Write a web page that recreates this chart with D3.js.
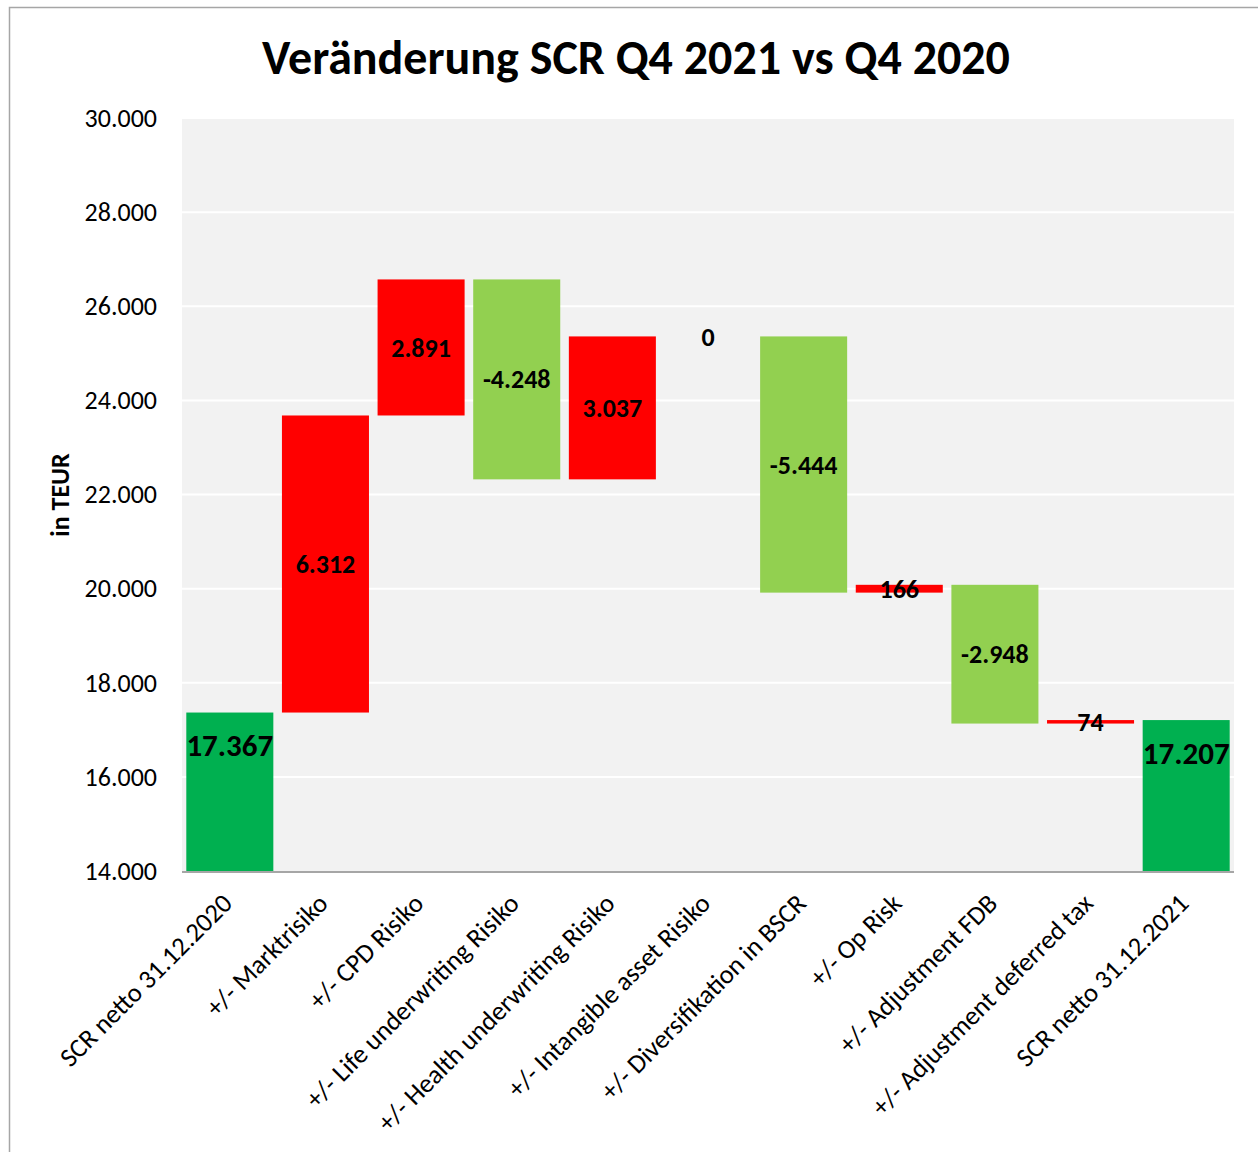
<!DOCTYPE html>
<html>
<head>
<meta charset="utf-8">
<script src="https://cdn.jsdelivr.net/npm/d3@7"></script>
<style>
  body { margin: 0; background: #fff; }
  svg { display: block; font-family: Carlito, Calibri, Lato, sans-serif; }
</style>
</head>
<body>
<div id="chart"></div>
<script>
// categories along the x axis
var categories = [
    "SCR netto 31.12.2020",
    "+/- Marktrisiko",
    "+/- CPD Risiko",
    "+/- Life underwriting Risiko",
    "+/- Health underwriting Risiko",
    "+/- Intangible asset Risiko",
    "+/- Diversifikation in BSCR",
    "+/- Op Risk",
    "+/- Adjustment FDB",
    "+/- Adjustment deferred tax",
    "SCR netto 31.12.2021"
];
// value per step (totals are absolute, the rest are changes)
var values = [17367, 6312, 2891, -4248, 3037, 0, -5444, 166, -2948, 74, 17207];
var kinds = ["total", "delta", "delta", "delta", "delta", "delta", "delta", "delta", "delta", "delta", "total"];
var yTicks = [14000, 16000, 18000, 20000, 22000, 24000, 26000, 28000, 30000];
var yMin = 14000, yMax = 30000;

var width = 1258, height = 1152;
var plot = {left: 182, right: 1234, top: 118, bottom: 871};

var colors = {up: "#FF0000", down: "#92D050", total: "#00B050"};

var fmt = function(v) {
    // german thousands separator
    var s = d3.format(",")(Math.abs(v)).replace(/,/g, ".");
    return (v < 0 ? "-" : "") + s;
};

// build waterfall steps
var running = 0;
var steps = values.map(function(v, i) {
    var d = {name: categories[i], value: v, kind: kinds[i]};
    if (kinds[i] == "total") {
        d.y0 = yMin; d.y1 = v; running = v;
    } else {
        d.y0 = running; d.y1 = running + v; running = d.y1;
    }
    return d;
});

var svg = d3.select("#chart").append("svg")
    .attr("width", width)
    .attr("height", height);

// outer frame
svg.append("path")
    .attr("d", "M9.5," + height + "V7.5H" + width)
    .attr("fill", "none")
    .attr("stroke", "#a6a6a6")
    .attr("stroke-width", 1.5);

var x = d3.scaleBand()
    .domain(categories)
    .range([plot.left, plot.right])
    .paddingInner(0.09)
    .paddingOuter(0.045);

var y = d3.scaleLinear()
    .domain([yMin, yMax])
    .range([plot.bottom, plot.top]);

// plot background
svg.append("rect")
    .attr("x", plot.left)
    .attr("y", plot.top)
    .attr("width", plot.right - plot.left)
    .attr("height", plot.bottom - plot.top)
    .attr("fill", "#f2f2f2");

// gridlines
svg.append("g")
    .selectAll("line")
    .data(yTicks.slice(1))
    .join("line")
    .attr("x1", plot.left)
    .attr("x2", plot.right)
    .attr("y1", d => y(d))
    .attr("y2", d => y(d))
    .attr("stroke", "#ffffff")
    .attr("stroke-width", 2);

// y axis
var yAxis = svg.append("g")
    .attr("transform", "translate(" + plot.left + ",0)")
    .call(d3.axisLeft(y).tickValues(yTicks).tickSize(0).tickPadding(25).tickFormat(fmt));
yAxis.select(".domain").remove();
yAxis.selectAll("text")
    .attr("font-size", 26)
    .attr("font-family", "Carlito, Calibri, Lato, sans-serif")
    .attr("fill", "#000");

// bars
svg.append("g")
    .selectAll("rect")
    .data(steps)
    .join("rect")
    .attr("x", d => x(d.name))
    .attr("width", x.bandwidth())
    .attr("y", d => y(Math.max(d.y0, d.y1)))
    .attr("height", d => Math.abs(y(d.y0) - y(d.y1)))
    .attr("fill", d => d.kind == "total" ? colors.total : (d.value >= 0 ? colors.up : colors.down));

// x axis line
svg.append("line")
    .attr("x1", plot.left)
    .attr("x2", plot.right)
    .attr("y1", plot.bottom + 1)
    .attr("y2", plot.bottom + 1)
    .attr("stroke", "#a6a6a6")
    .attr("stroke-width", 2);

// value labels
svg.append("g")
    .selectAll("text")
    .data(steps)
    .join("text")
    .attr("x", d => x(d.name) + x.bandwidth() / 2)
    .attr("y", function(d) {
        if (d.kind == "total") return y(d.y1) + 33;
        return y((d.y0 + d.y1) / 2);
    })
    .attr("dy", "0.35em")
    .attr("text-anchor", "middle")
    .attr("font-weight", "bold")
    .attr("font-size", d => d.kind == "total" ? 31 : 26)
    .text(d => fmt(d.value));

// category labels
svg.append("g")
    .selectAll("text")
    .data(categories)
    .join("text")
    .attr("transform", d => "translate(" + (x(d) + x.bandwidth() / 2 + 4) + "," + (plot.bottom + 34) + ") rotate(-45)")
    .attr("text-anchor", "end")
    .attr("font-size", 26.5)
    .text(d => d);

// axis title
svg.append("text")
    .attr("transform", "translate(69,495) rotate(-90)")
    .attr("text-anchor", "middle")
    .attr("font-weight", "bold")
    .attr("font-size", 26)
    .text("in TEUR");

// chart title
svg.append("text")
    .attr("x", 636)
    .attr("y", 74)
    .attr("text-anchor", "middle")
    .attr("font-weight", "bold")
    .attr("font-size", 48)
    .text("Veränderung SCR Q4 2021 vs Q4 2020");
</script>
</body>
</html>
